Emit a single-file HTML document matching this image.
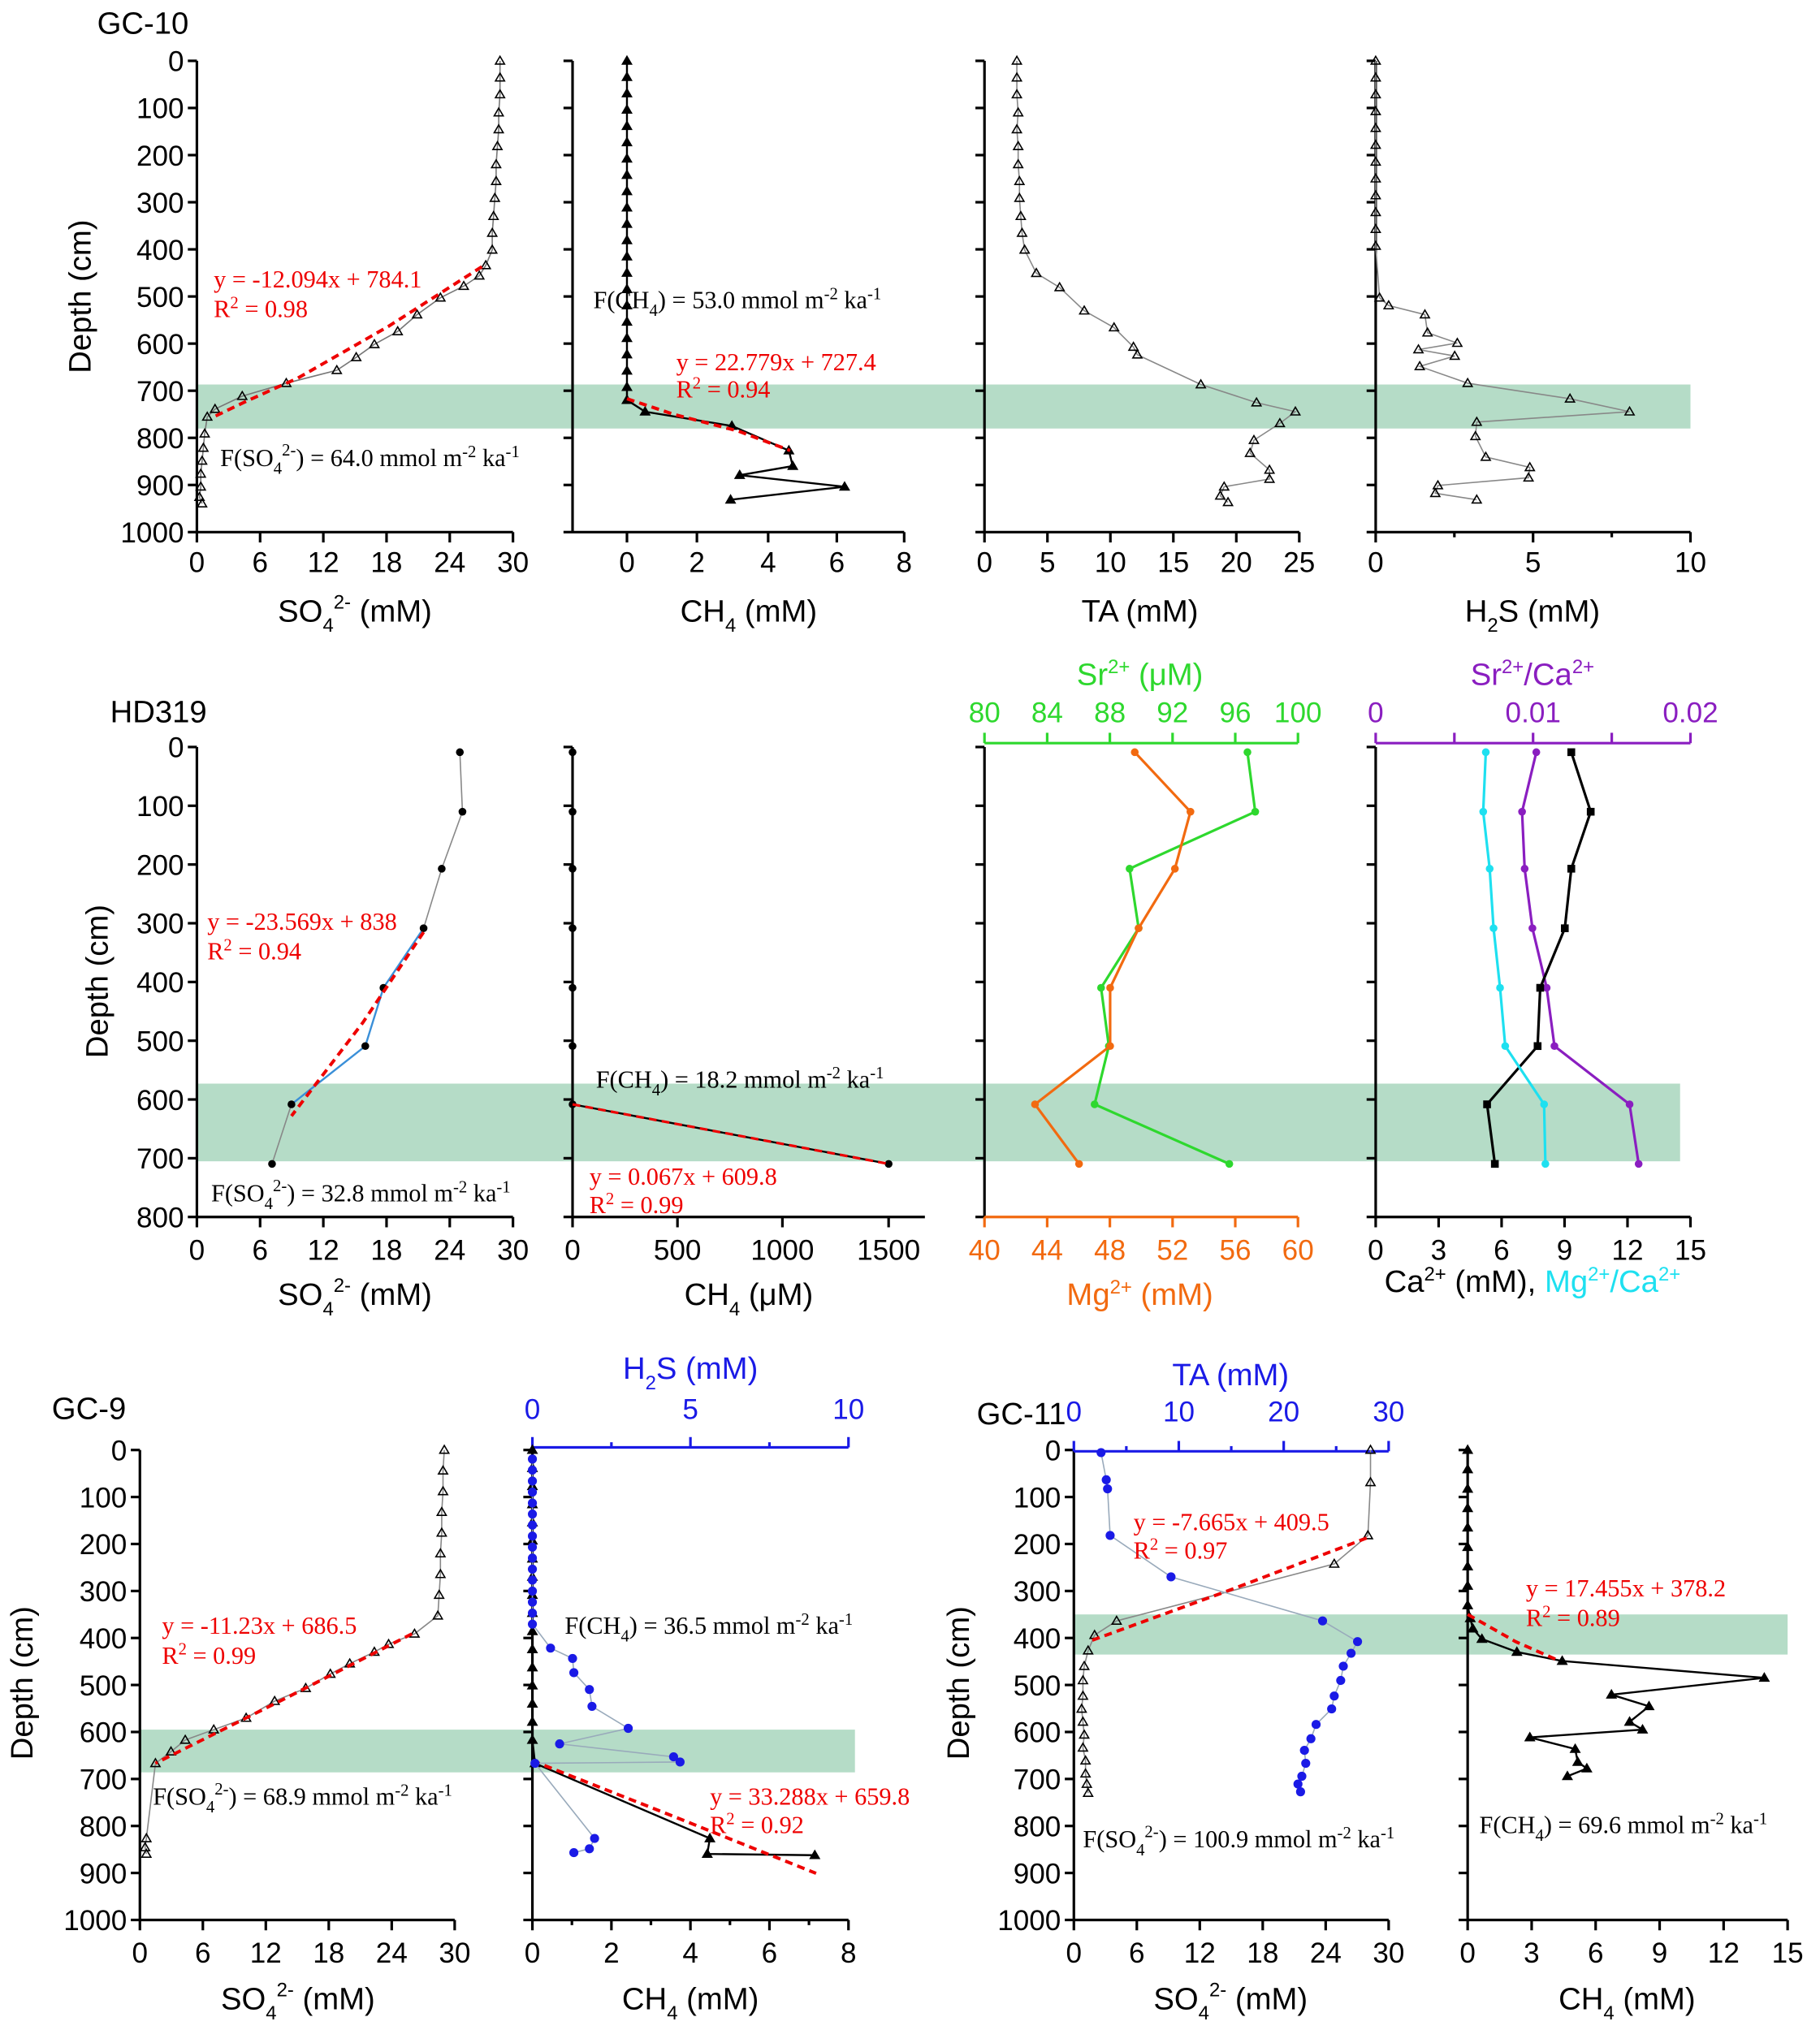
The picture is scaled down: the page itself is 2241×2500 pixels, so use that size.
<!DOCTYPE html>
<html><head><meta charset="utf-8"><style>
html,body{margin:0;padding:0;background:#fff;}
svg{display:block}
text{font-family:"Liberation Sans",sans-serif;}
.s{font-family:"Liberation Serif",serif;font-size:19px;}
.t{font-size:22px;}
.a{font-size:24px;}
</style></head><body>
<svg id="c" width="2241" height="2500" viewBox="0 0 1405 1568" preserveAspectRatio="none" xmlns="http://www.w3.org/2000/svg"></svg>
<script>
const S=document.getElementById('c');let h='';
function band(x0,x1,y0,y1){h+=`<rect x="${x0}" y="${y0}" width="${x1-x0}" height="${y1-y0}" fill="#b5dcc7"/>`;}
function yax(x,y0,y1,labels,col){col=col||'#000';h+=`<line x1="${x}" y1="${y0}" x2="${x}" y2="${y1}" stroke="${col}" stroke-width="2"/>`;
 const n=labels.length-1;labels.forEach((l,i)=>{const y=y0+(y1-y0)*i/n;h+=`<line x1="${x-7}" y1="${y}" x2="${x}" y2="${y}" stroke="${col}" stroke-width="2"/>`;
 if(l!==null)h+=`<text class="t" x="${x-10}" y="${y+8}" text-anchor="end">${l}</text>`;});}
function xax(y,x0,x1,labels,col,up,ly,minor){col=col||'#000';h+=`<line x1="${x0}" y1="${y}" x2="${x1}" y2="${y}" stroke="${col}" stroke-width="2"/>`;
 const n=labels.length-1;const d=up?-8:8;
 labels.forEach((l,i)=>{const x=x0+(x1-x0)*i/n;h+=`<line x1="${x}" y1="${y}" x2="${x}" y2="${y+d}" stroke="${col}" stroke-width="2"/>`;
 h+=`<text class="t" x="${x}" y="${ly}" text-anchor="middle" fill="${col}">${l}</text>`;
 if(minor&&i<n){const xm=x+(x1-x0)/n/2;h+=`<line x1="${xm}" y1="${y}" x2="${xm}" y2="${y+d/2}" stroke="${col}" stroke-width="2"/>`;}});}
function pl(pts,col,w,dash){h+=`<polyline points="${pts.map(p=>p.join(',')).join(' ')}" fill="none" stroke="${col}" stroke-width="${w}" ${dash?'stroke-dasharray="6,4"':''}/>`;}
function tri(pts,col,fill){pts.forEach(p=>{h+=`<path d="M${p[0]},${p[1]-3.5}L${p[0]+3.5},${p[1]+2.5}L${p[0]-3.5},${p[1]+2.5}Z" fill="${fill||'none'}" stroke="${col}" stroke-width="1"/>`;});}
function dot(pts,col,r){pts.forEach(p=>{h+=`<circle cx="${p[0]}" cy="${p[1]}" r="${r||3}" fill="${col}"/>`;});}
function sq(pts,col){pts.forEach(p=>{h+=`<rect x="${p[0]-3}" y="${p[1]-3}" width="6" height="6" fill="${col}"/>`;});}
function tx(x,y,s,cls,col,anch){h+=`<text class="${cls}" x="${x}" y="${y}" fill="${col||'#000'}" ${anch?`text-anchor="${anch}"`:''}>${s}</text>`;}
function vt(x,y,s){h+=`<text class="a" transform="translate(${x},${y}) rotate(-90)" text-anchor="middle">${s}</text>`;}
function col(x,y0,y1,step){const a=[];for(let y=y0;y<=y1;y+=step)a.push([x,y]);return a;}

band(152,1305,297,331);
band(152,1297,837,897);
band(108,660,1336,1369);
band(829,1380,1247,1278);

const Y10=['0','100','200','300','400','500','600','700','800','900','1000'];
yax(152,47,411,Y10);xax(411,152,396,['0','6','12','18','24','30'],'#000',false,442);
yax(442,47,411,Y10.map(()=>null));xax(411,442,698,[],'#000',false,442);
[['0',484],['2',538],['4',593],['6',646],['8',698]].forEach(a=>{h+=`<line x1="${a[1]}" y1="411" x2="${a[1]}" y2="419" stroke="#000" stroke-width="2"/>`;tx(a[1],442,a[0],'t','#000','middle');});
yax(760,47,411,Y10.map(()=>null));xax(411,760,1003,['0','5','10','15','20','25'],'#000',false,442);
yax(1062,47,411,Y10.map(()=>null));xax(411,1062,1305,['0','5','10'],'#000',false,442,true);
tx(75,26,'GC-10','a');vt(70,229,'Depth (cm)');
tx(274,480,'SO<tspan dy="8" font-size="15">4</tspan><tspan dy="-18" font-size="15">2-</tspan><tspan dy="10"> (mM)</tspan>','a','#000','middle');
tx(578,480,'CH<tspan dy="8" font-size="15">4</tspan><tspan dy="-8"> (mM)</tspan>','a','#000','middle');
tx(880,480,'TA (mM)','a','#000','middle');
tx(1183,480,'H<tspan dy="8" font-size="15">2</tspan><tspan dy="-8">S (mM)</tspan>','a','#000','middle');
let so10=[[386,47],[386,60],[386,73],[385,87],[385,100],[384,113],[383,127],[383,140],[382,153],[381,167],[380,180],[380,193],[375,205],[370,213],[358,221],[340,230],[322,243],[307,256],[289,266],[275,276],[260,286],[221,296],[187,306],[166,316],[160,322],[158,335],[157,346],[156,356],[155,366],[155,376],[154,384],[156,389]];
pl(so10,'#777',1);tri(so10,'#000');pl([[372,206],[300,252],[230,292],[190,310],[165,322]],'#e00',2.5,true);
let ch10=col(484,47,300,12.6).concat([[484,309]]);ch10=ch10.concat([[498,318],[565,329],[609,348],[612,360],[571,367],[652,376],[564,386]]);
pl(ch10,'#000',1.5);tri(ch10,'#000','#000');pl([[484,308],[520,320],[570,333],[610,348]],'#e00',2.5,true);
let ta10=[[785,47],[785,60],[785,73],[786,87],[785,100],[786,113],[786,127],[787,140],[787,153],[788,167],[789,180],[791,193],[800,211],[818,222],[837,240],[860,253],[875,268],[878,274],[927,297],[970,311],[1000,318],[988,327],[968,340],[965,350],[980,363],[980,370],[945,376],[942,383],[948,388]];
pl(ta10,'#888',1);tri(ta10,'#000');
let h10=col(1062,47,200,13).concat([[1065,230],[1072,236],[1100,243],[1102,257],[1125,265],[1095,270],[1123,275],[1096,283],[1133,296],[1212,308],[1258,318],[1140,326],[1139,337],[1147,353],[1181,361],[1180,369],[1110,375],[1108,381],[1140,386]]);
pl(h10,'#888',1);tri(h10,'#000');
tx(165,222,'y = -12.094x + 784.1','s','#e00');tx(165,245,'R<tspan dy="-7" font-size="13">2</tspan><tspan dy="7"> = 0.98</tspan>','s','#e00');
tx(170,360,'F(SO<tspan dy="6" font-size="13">4</tspan><tspan dy="-14" font-size="13">2-</tspan><tspan dy="8">) =  64.0 mmol m</tspan><tspan dy="-7" font-size="13">-2</tspan><tspan dy="7"> ka</tspan><tspan dy="-7" font-size="13">-1</tspan>','s');
tx(458,238,'F(CH<tspan dy="6" font-size="13">4</tspan><tspan dy="-6">) =  53.0 mmol m</tspan><tspan dy="-7" font-size="13">-2</tspan><tspan dy="7"> ka</tspan><tspan dy="-7" font-size="13">-1</tspan>','s');
tx(522,286,'y = 22.779x + 727.4','s','#e00');tx(522,307,'R<tspan dy="-7" font-size="13">2</tspan><tspan dy="7"> = 0.94</tspan>','s','#e00');

const Y3=['0','100','200','300','400','500','600','700','800'];
yax(152,577,940,Y3);xax(940,152,396,['0','6','12','18','24','30'],'#000',false,973);
yax(442,577,940,Y3.map(()=>null));
h+=`<line x1="442" y1="940" x2="714" y2="940" stroke="#000" stroke-width="2"/>`;
[['0',442],['500',523],['1000',604],['1500',686]].forEach(a=>{h+=`<line x1="${a[1]}" y1="940" x2="${a[1]}" y2="948" stroke="#000" stroke-width="2"/>`;tx(a[1],973,a[0],'t','#000','middle');});
yax(760,577,940,Y3.map(()=>null));
xax(574,760,1002,['80','84','88','92','96','100'],'#2ed82e',true,558);
xax(940,760,1002,['40','44','48','52','56','60'],'#f26a10',false,973);
yax(1062,577,940,Y3.map(()=>null));
xax(574,1062,1305,['0','','0.01','','0.02'],'#8a1ec0',true,558);
xax(940,1062,1305,['0','3','6','9','12','15'],'#000',false,973);
tx(85,558,'HD319','a');vt(83,758,'Depth (cm)');
tx(274,1008,'SO<tspan dy="8" font-size="15">4</tspan><tspan dy="-18" font-size="15">2-</tspan><tspan dy="10"> (mM)</tspan>','a','#000','middle');
tx(578,1008,'CH<tspan dy="8" font-size="15">4</tspan><tspan dy="-8"> (μM)</tspan>','a','#000','middle');
tx(880,1008,'Mg<tspan dy="-9" font-size="15">2+</tspan><tspan dy="9"> (mM)</tspan>','a','#f26a10','middle');
tx(880,529,'Sr<tspan dy="-9" font-size="15">2+</tspan><tspan dy="9"> (μM)</tspan>','a','#2ed82e','middle');
tx(1183,529,'Sr<tspan dy="-9" font-size="15">2+</tspan><tspan dy="9">/Ca</tspan><tspan dy="-9" font-size="15">2+</tspan>','a','#8a1ec0','middle');
tx(1183,998,'Ca<tspan dy="-9" font-size="15">2+</tspan><tspan dy="9"> (mM), </tspan><tspan fill="#1ee0f0">Mg</tspan><tspan dy="-9" font-size="15" fill="#1ee0f0">2+</tspan><tspan dy="9" fill="#1ee0f0">/Ca</tspan><tspan dy="-9" font-size="15" fill="#1ee0f0">2+</tspan>','a','#000','middle');
let sd=[[355,581],[357,627],[341,671],[327,717],[296,763],[282,808],[225,853],[210,899]];
pl(sd,'#888',1);pl(sd.slice(3,7),'#3a8fd8',1.5);dot(sd,'#000');
pl([[327,720],[280,790],[225,862]],'#e00',2.5,true);
let cd=[[442,581],[442,627],[442,671],[442,717],[442,763],[442,808],[442,853],[686,899]];
pl(cd,'#000',1.5);dot(cd,'#000');pl([[442,853],[686,899]],'#e00',2,true);
let sr=[[963,581],[969,627],[872,671],[879,717],[850,763],[856,808],[845,853],[949,899]];pl(sr,'#2ed82e',2);dot(sr,'#2ed82e');
let mg=[[876,581],[919,627],[907,671],[879,717],[857,763],[857,808],[799,853],[833,899]];pl(mg,'#f26a10',2);dot(mg,'#f26a10');
let sc=[[1186,581],[1175,627],[1177,671],[1183,717],[1194,763],[1200,808],[1258,853],[1265,899]];pl(sc,'#8a1ec0',2);dot(sc,'#8a1ec0');
let ca=[[1213,581],[1228,627],[1213,671],[1208,717],[1189,763],[1187,808],[1148,853],[1154,899]];pl(ca,'#000',2);sq(ca,'#000');
let mc=[[1147,581],[1145,627],[1150,671],[1153,717],[1158,763],[1162,808],[1192,853],[1193,899]];pl(mc,'#1ee0f0',2);dot(mc,'#1ee0f0');
tx(160,718,'y = -23.569x + 838','s','#e00');tx(160,741,'R<tspan dy="-7" font-size="13">2</tspan><tspan dy="7"> = 0.94</tspan>','s','#e00');
tx(163,928,'F(SO<tspan dy="6" font-size="13">4</tspan><tspan dy="-14" font-size="13">2-</tspan><tspan dy="8">) =  32.8 mmol m</tspan><tspan dy="-7" font-size="13">-2</tspan><tspan dy="7"> ka</tspan><tspan dy="-7" font-size="13">-1</tspan>','s');
tx(460,840,'F(CH<tspan dy="6" font-size="13">4</tspan><tspan dy="-6">) =  18.2 mmol m</tspan><tspan dy="-7" font-size="13">-2</tspan><tspan dy="7"> ka</tspan><tspan dy="-7" font-size="13">-1</tspan>','s');
tx(455,915,'y = 0.067x + 609.8','s','#e00');tx(455,937,'R<tspan dy="-7" font-size="13">2</tspan><tspan dy="7"> = 0.99</tspan>','s','#e00');

yax(108,1120,1483,Y10);xax(1483,108,351,['0','6','12','18','24','30'],'#000',false,1516);
yax(411,1120,1483,Y10.map(()=>null));xax(1483,411,655,['0','2','4','6','8'],'#000',false,1516,true);
xax(1118,411,655,['0','5','10'],'#1a1ae6',true,1096,true);
tx(40,1096,'GC-9','a');vt(25,1300,'Depth (cm)');
tx(230,1552,'SO<tspan dy="8" font-size="15">4</tspan><tspan dy="-18" font-size="15">2-</tspan><tspan dy="10"> (mM)</tspan>','a','#000','middle');
tx(533,1552,'CH<tspan dy="8" font-size="15">4</tspan><tspan dy="-8"> (mM)</tspan>','a','#000','middle');
tx(533,1065,'H<tspan dy="8" font-size="15">2</tspan><tspan dy="-8">S (mM)</tspan>','a','#1a1ae6','middle');
let s9=[[343,1120],[342,1136],[342,1152],[341,1168],[341,1184],[340,1200],[340,1216],[339,1232],[338,1248],[320,1262],[300,1270],[289,1276],[270,1285],[255,1293],[236,1304],[212,1314],[190,1327],[165,1336],[143,1344],[132,1353],[120,1362],[113,1420],[112,1427],[113,1432]];
pl(s9,'#888',1);tri(s9,'#000');pl([[318,1262],[220,1312],[120,1362]],'#e00',2.5,true);
let c9=col(411,1120,1350,14).concat([[413,1362],[548,1420],[546,1432],[629,1433]]);
pl(c9,'#000',1.5);tri(c9,'#000','#000');pl([[411,1360],[520,1403],[630,1447]],'#e00',2.5,true);
let h9=col(411,1127,1262,8.5).concat([[425,1273],[442,1281],[443,1292],[455,1305],[457,1318],[485,1335],[432,1347],[520,1357],[525,1361],[413,1362],[459,1420],[455,1428],[443,1431]]);
pl(h9,'#9ab',1);dot(h9,'#1a1ae6',3.5);
tx(125,1262,'y = -11.23x + 686.5','s','#e00');tx(125,1285,'R<tspan dy="-7" font-size="13">2</tspan><tspan dy="7"> = 0.99</tspan>','s','#e00');
tx(118,1394,'F(SO<tspan dy="6" font-size="13">4</tspan><tspan dy="-14" font-size="13">2-</tspan><tspan dy="8">) =  68.9 mmol m</tspan><tspan dy="-7" font-size="13">-2</tspan><tspan dy="7"> ka</tspan><tspan dy="-7" font-size="13">-1</tspan>','s');
tx(436,1262,'F(CH<tspan dy="6" font-size="13">4</tspan><tspan dy="-6">) =  36.5 mmol m</tspan><tspan dy="-7" font-size="13">-2</tspan><tspan dy="7"> ka</tspan><tspan dy="-7" font-size="13">-1</tspan>','s');
tx(548,1394,'y = 33.288x + 659.8','s','#e00');tx(548,1416,'R<tspan dy="-7" font-size="13">2</tspan><tspan dy="7"> = 0.92</tspan>','s','#e00');

yax(829,1120,1483,Y10);xax(1483,829,1072,['0','6','12','18','24','30'],'#000',false,1516);
yax(1133,1120,1483,Y10.map(()=>null));xax(1483,1133,1380,['0','3','6','9','12','15'],'#000',false,1516);
xax(1121,829,1072,['0','10','20','30'],'#1a1ae6',true,1098,true);
tx(754,1100,'GC-11','a');vt(748,1300,'Depth (cm)');
tx(950,1552,'SO<tspan dy="8" font-size="15">4</tspan><tspan dy="-18" font-size="15">2-</tspan><tspan dy="10"> (mM)</tspan>','a','#000','middle');
tx(1256,1552,'CH<tspan dy="8" font-size="15">4</tspan><tspan dy="-8"> (mM)</tspan>','a','#000','middle');
tx(950,1070,'TA (mM)','a','#1a1ae6','middle');
let s11=[[1058,1120],[1058,1145],[1056,1186],[1030,1208],[862,1252],[845,1263],[840,1275],[837,1287],[836,1298],[836,1310],[835,1320],[836,1330],[837,1340],[836,1350],[838,1360],[838,1370],[839,1378],[840,1385]];
pl(s11,'#888',1);tri(s11,'#000');pl([[1055,1188],[950,1228],[843,1267]],'#e00',2.5,true);
let t11=[[850,1122],[854,1143],[855,1150],[857,1186],[904,1218],[1021,1252],[1048,1268],[1043,1277],[1037,1287],[1035,1298],[1030,1310],[1028,1320],[1016,1332],[1012,1343],[1007,1352],[1008,1362],[1005,1372],[1002,1378],[1004,1384]];
pl(t11,'#9ab',1);dot(t11,'#1a1ae6',3.5);
let c11=col(1133,1120,1240,15).concat([[1135,1250],[1137,1258],[1144,1266],[1171,1276],[1206,1283],[1362,1296],[1244,1309],[1273,1318],[1258,1330],[1268,1336],[1181,1342],[1216,1351],[1218,1361],[1225,1366],[1210,1372]]);
pl(c11,'#000',1.5);tri(c11,'#000','#000');pl([[1133,1247],[1170,1268],[1204,1283]],'#e00',2.5,true);
tx(875,1182,'y = -7.665x + 409.5','s','#e00');tx(875,1204,'R<tspan dy="-7" font-size="13">2</tspan><tspan dy="7"> = 0.97</tspan>','s','#e00');
tx(836,1427,'F(SO<tspan dy="6" font-size="13">4</tspan><tspan dy="-14" font-size="13">2-</tspan><tspan dy="8">) =  100.9 mmol m</tspan><tspan dy="-7" font-size="13">-2</tspan><tspan dy="7"> ka</tspan><tspan dy="-7" font-size="13">-1</tspan>','s');
tx(1178,1233,'y = 17.455x + 378.2','s','#e00');tx(1178,1256,'R<tspan dy="-7" font-size="13">2</tspan><tspan dy="7"> = 0.89</tspan>','s','#e00');
tx(1142,1416,'F(CH<tspan dy="6" font-size="13">4</tspan><tspan dy="-6">) =  69.6 mmol m</tspan><tspan dy="-7" font-size="13">-2</tspan><tspan dy="7"> ka</tspan><tspan dy="-7" font-size="13">-1</tspan>','s');
S.innerHTML=h;
</script>
</body></html>
